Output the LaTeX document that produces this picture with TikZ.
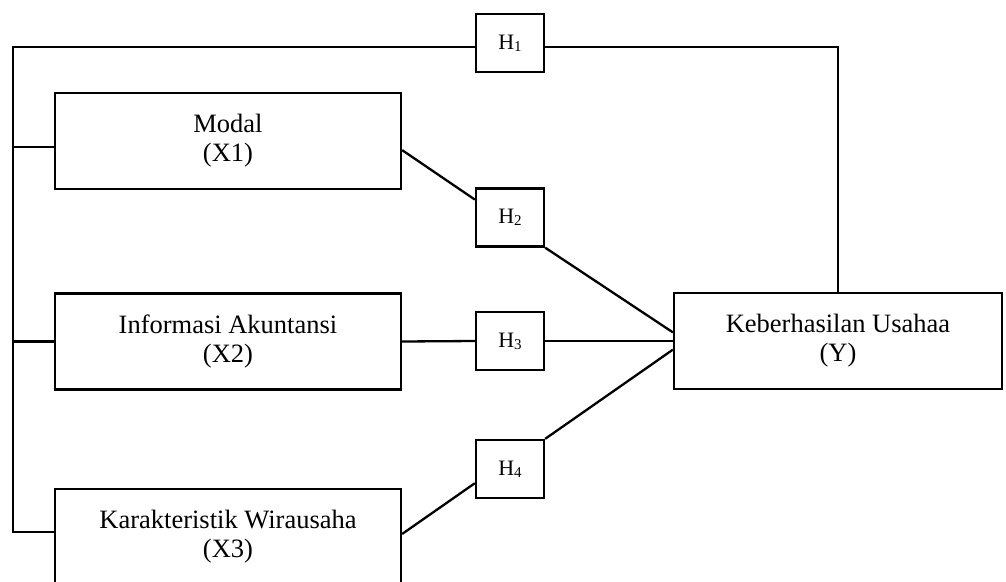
\documentclass[tikz,border=0pt]{standalone}
\usepackage{fontspec}
\setmainfont{Liberation Serif}
\usepackage{tikz}
\usetikzlibrary{
    positioning,
    calc
}
\newcommand{\hsub}[1]{H\raisebox{-2pt}{\fontsize{15}{15}\selectfont #1}}
\tikzset{
    % Variable box
    varbox/.style={
        rectangle,
        draw=black,
        line width=2.3pt,
        fill=white,
        font=\fontsize{26.5}{29}\selectfont,
        minimum width=346pt,
        minimum height=96pt,
        align=center,
        inner sep=0pt
    },
    % Hypothesis box
    hypbox/.style={
        rectangle,
        draw=black,
        line width=2.3pt,
        fill=white,
        font=\fontsize{22}{26}\selectfont,
        minimum width=68pt,
        minimum height=58pt,
        inner sep=0pt
    },
    % Connector
    linkline/.style={
        draw=black,
        line width=2.3pt
    }
}

\begin{document}
\begin{tikzpicture}[x=1pt, y=-1pt]

    \useasboundingbox (0,0) rectangle (1006,581);

    % Variables
    \node[varbox] (modal) at (228,141) {Modal\\(X1)};
    \node[varbox] (info) at (228,341.5) {Informasi Akuntansi\\(X2)};
    \node[varbox] (kar) at (228,537) {Karakteristik Wirausaha\\(X3)};
    \node[varbox, minimum width=328pt] (usaha) at (838,341) {Keberhasilan Usahaa\\(Y)};

    % Hypotheses
    \node[hypbox] (h1) at (510,43) {\hsub{1}};
    \node[hypbox] (h2) at (510,217.5) {\hsub{2}};
    \node[hypbox] (h3) at (510,341) {\hsub{3}};
    \node[hypbox] (h4) at (510,469) {\hsub{4}};

    % Left bus and H1 path
    \coordinate (bus) at (13,532);
    \draw[linkline] (h1.186) -| (bus) -- (bus -| kar.west);
    \draw[linkline] (modal.182.3) -- (modal.182.3 -| bus);
    \draw[linkline] (info.west) -- (info.west -| bus);
    \draw[linkline] (h1.-6) -| (usaha.north);

    % Paths through H2, H3, H4
    \draw[linkline] (modal.-3.5) -- (h2.153);
    \draw[linkline] (h2.south east) -- (usaha.177);
    \draw[linkline] (info.east) -- (h3.west);
    \draw[linkline] (h3.east) -- (usaha.west);
    \draw[linkline] (kar.1.7) -- (h4.202.4);
    \draw[linkline] (h4.north east) -- (usaha.183);

\end{tikzpicture}
\end{document}
